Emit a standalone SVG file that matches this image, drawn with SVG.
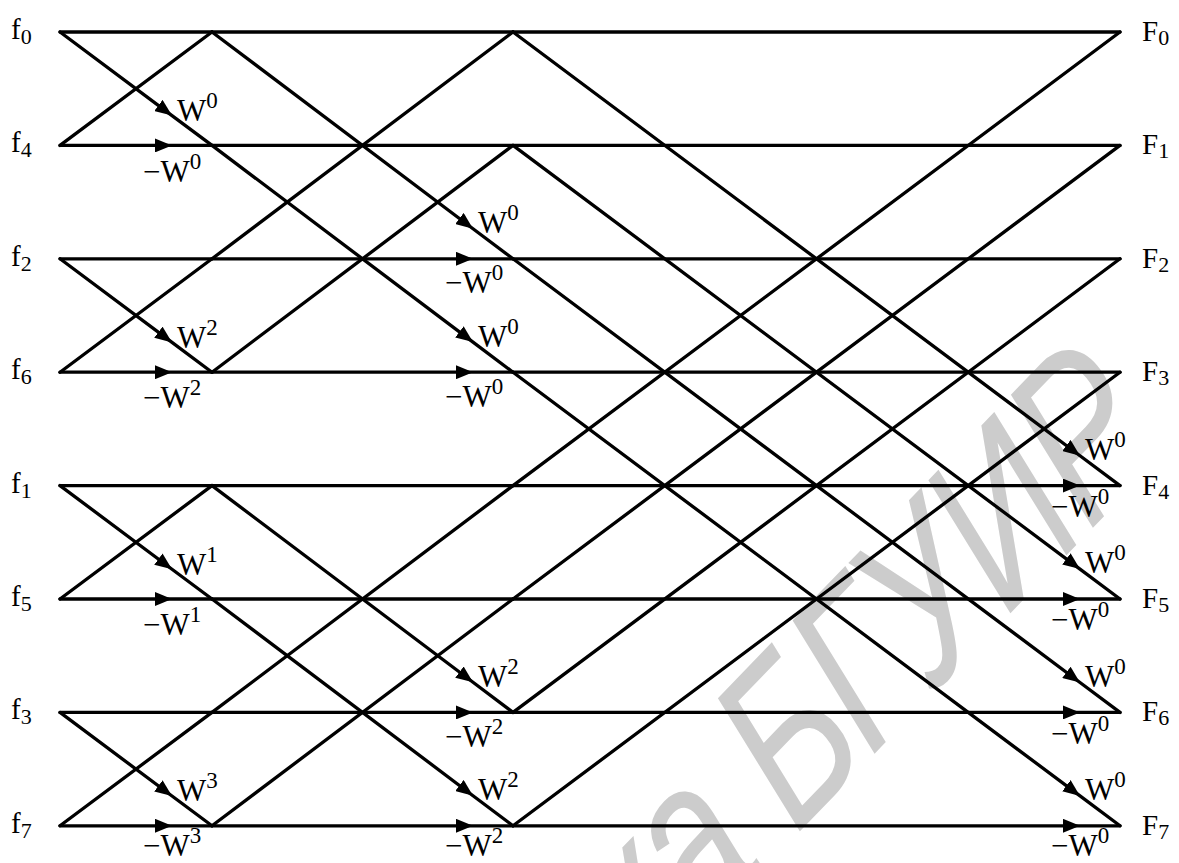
<svg xmlns="http://www.w3.org/2000/svg" width="1179" height="863" viewBox="0 0 1179 863">
<style>
.ln{fill:none;stroke:#000;stroke-width:3.3;stroke-linecap:round}
.ar{marker-mid:url(#ah)}
.t{font-family:"Liberation Serif","Times New Roman",serif;fill:#000}
.w{font-size:31px}
.s{font-size:23px}
.io{font-size:29px}
.sub{font-size:22px}
.wm{font-family:"Liberation Sans",Arial,sans-serif;font-style:italic;font-size:220px;letter-spacing:-5px;fill:#cccccc}
</style>
<defs>
<marker id="ah" markerUnits="userSpaceOnUse" markerWidth="18" markerHeight="14" refX="17" refY="7" orient="auto" viewBox="0 0 18 14">
<path d="M0,0 L17,7 L0,14 z" fill="#000"/>
</marker>
</defs>
<rect width="1179" height="863" fill="#fff"/>
<g id="watermark"><text class="wm" text-anchor="end" transform="translate(1166,452) rotate(-46) skewX(-6) scale(0.78,1)">Библиотека БГУИР</text></g>
<g id="connectors">
<path class="ln" d="M60,32 L212,32"/>
<path class="ln ar" d="M60,145.4 L172,145.4 L212,145.4"/>
<path class="ln ar" d="M60,32 L172,115.6 L212,145.4"/>
<path class="ln" d="M60,145.4 L212,32"/>
<path class="ln" d="M60,258.8 L212,258.8"/>
<path class="ln ar" d="M60,372.2 L172,372.2 L212,372.2"/>
<path class="ln ar" d="M60,258.8 L172,342.4 L212,372.2"/>
<path class="ln" d="M60,372.2 L212,258.8"/>
<path class="ln" d="M60,485.6 L212,485.6"/>
<path class="ln ar" d="M60,599 L172,599 L212,599"/>
<path class="ln ar" d="M60,485.6 L172,569.2 L212,599"/>
<path class="ln" d="M60,599 L212,485.6"/>
<path class="ln" d="M60,712.4 L212,712.4"/>
<path class="ln ar" d="M60,825.8 L172,825.8 L212,825.8"/>
<path class="ln ar" d="M60,712.4 L172,796 L212,825.8"/>
<path class="ln" d="M60,825.8 L212,712.4"/>
<path class="ln" d="M212,32 L513,32"/>
<path class="ln" d="M212,145.4 L513,145.4"/>
<path class="ln ar" d="M212,258.8 L473,258.8 L513,258.8"/>
<path class="ln ar" d="M212,372.2 L473,372.2 L513,372.2"/>
<path class="ln ar" d="M212,32 L473,228.7 L513,258.8"/>
<path class="ln ar" d="M212,145.4 L473,342.1 L513,372.2"/>
<path class="ln" d="M212,258.8 L513,32"/>
<path class="ln" d="M212,372.2 L513,145.4"/>
<path class="ln" d="M212,485.6 L513,485.6"/>
<path class="ln" d="M212,599 L513,599"/>
<path class="ln ar" d="M212,712.4 L473,712.4 L513,712.4"/>
<path class="ln ar" d="M212,825.8 L473,825.8 L513,825.8"/>
<path class="ln ar" d="M212,485.6 L473,682.3 L513,712.4"/>
<path class="ln ar" d="M212,599 L473,795.7 L513,825.8"/>
<path class="ln" d="M212,712.4 L513,485.6"/>
<path class="ln" d="M212,825.8 L513,599"/>
<path class="ln" d="M513,32 L1120,32"/>
<path class="ln" d="M513,145.4 L1120,145.4"/>
<path class="ln" d="M513,258.8 L1120,258.8"/>
<path class="ln" d="M513,372.2 L1120,372.2"/>
<path class="ln ar" d="M513,485.6 L1080,485.6 L1120,485.6"/>
<path class="ln ar" d="M513,599 L1080,599 L1120,599"/>
<path class="ln ar" d="M513,712.4 L1080,712.4 L1120,712.4"/>
<path class="ln ar" d="M513,825.8 L1080,825.8 L1120,825.8"/>
<path class="ln ar" d="M513,32 L1080,455.7 L1120,485.6"/>
<path class="ln ar" d="M513,145.4 L1080,569.1 L1120,599"/>
<path class="ln ar" d="M513,258.8 L1080,682.5 L1120,712.4"/>
<path class="ln ar" d="M513,372.2 L1080,795.9 L1120,825.8"/>
<path class="ln" d="M513,485.6 L1120,32"/>
<path class="ln" d="M513,599 L1120,145.4"/>
<path class="ln" d="M513,712.4 L1120,258.8"/>
<path class="ln" d="M513,825.8 L1120,372.2"/>
</g>
<g id="inputs" class="t">
<text id="in-f0" class="io" x="11" y="39">f<tspan class="sub" dy="5">0</tspan></text>
<text id="in-f4" class="io" x="11" y="152.4">f<tspan class="sub" dy="5">4</tspan></text>
<text id="in-f2" class="io" x="11" y="265.8">f<tspan class="sub" dy="5">2</tspan></text>
<text id="in-f6" class="io" x="11" y="379.2">f<tspan class="sub" dy="5">6</tspan></text>
<text id="in-f1" class="io" x="11" y="492.6">f<tspan class="sub" dy="5">1</tspan></text>
<text id="in-f5" class="io" x="11" y="606">f<tspan class="sub" dy="5">5</tspan></text>
<text id="in-f3" class="io" x="11" y="719.4">f<tspan class="sub" dy="5">3</tspan></text>
<text id="in-f7" class="io" x="11" y="832.8">f<tspan class="sub" dy="5">7</tspan></text>
</g>
<g id="outputs" class="t">
<text id="out-F0" class="io" x="1142" y="41">F<tspan class="sub" dy="4">0</tspan></text>
<text id="out-F1" class="io" x="1142" y="154.4">F<tspan class="sub" dy="4">1</tspan></text>
<text id="out-F2" class="io" x="1142" y="267.8">F<tspan class="sub" dy="4">2</tspan></text>
<text id="out-F3" class="io" x="1142" y="381.2">F<tspan class="sub" dy="4">3</tspan></text>
<text id="out-F4" class="io" x="1142" y="494.6">F<tspan class="sub" dy="4">4</tspan></text>
<text id="out-F5" class="io" x="1142" y="608">F<tspan class="sub" dy="4">5</tspan></text>
<text id="out-F6" class="io" x="1142" y="721.4">F<tspan class="sub" dy="4">6</tspan></text>
<text id="out-F7" class="io" x="1142" y="834.8">F<tspan class="sub" dy="4">7</tspan></text>
</g>
<g id="weights" class="t w">
<text x="177" y="121">W<tspan class="s" dy="-13">0</tspan></text>
<text x="143" y="181.5">−W<tspan class="s" dy="-13">0</tspan></text>
<text x="177" y="347.8">W<tspan class="s" dy="-13">2</tspan></text>
<text x="143" y="408">−W<tspan class="s" dy="-13">2</tspan></text>
<text x="177" y="574.6">W<tspan class="s" dy="-13">1</tspan></text>
<text x="143" y="634.5">−W<tspan class="s" dy="-13">1</tspan></text>
<text x="177" y="801.4">W<tspan class="s" dy="-13">3</tspan></text>
<text x="143" y="856">−W<tspan class="s" dy="-13">3</tspan></text>
<text x="478" y="233">W<tspan class="s" dy="-13">0</tspan></text>
<text x="445" y="293">−W<tspan class="s" dy="-13">0</tspan></text>
<text x="478" y="346.5">W<tspan class="s" dy="-13">0</tspan></text>
<text x="445" y="406.5">−W<tspan class="s" dy="-13">0</tspan></text>
<text x="478" y="686.7">W<tspan class="s" dy="-13">2</tspan></text>
<text x="445" y="746.7">−W<tspan class="s" dy="-13">2</tspan></text>
<text x="478" y="800">W<tspan class="s" dy="-13">2</tspan></text>
<text x="445" y="856">−W<tspan class="s" dy="-13">2</tspan></text>
<text x="1085" y="460">W<tspan class="s" dy="-13">0</tspan></text>
<text x="1051" y="517">−W<tspan class="s" dy="-13">0</tspan></text>
<text x="1085" y="573.4">W<tspan class="s" dy="-13">0</tspan></text>
<text x="1051" y="630.4">−W<tspan class="s" dy="-13">0</tspan></text>
<text x="1085" y="686.8">W<tspan class="s" dy="-13">0</tspan></text>
<text x="1051" y="743.8">−W<tspan class="s" dy="-13">0</tspan></text>
<text x="1085" y="800.2">W<tspan class="s" dy="-13">0</tspan></text>
<text x="1051" y="856">−W<tspan class="s" dy="-13">0</tspan></text>
</g>
</svg>
